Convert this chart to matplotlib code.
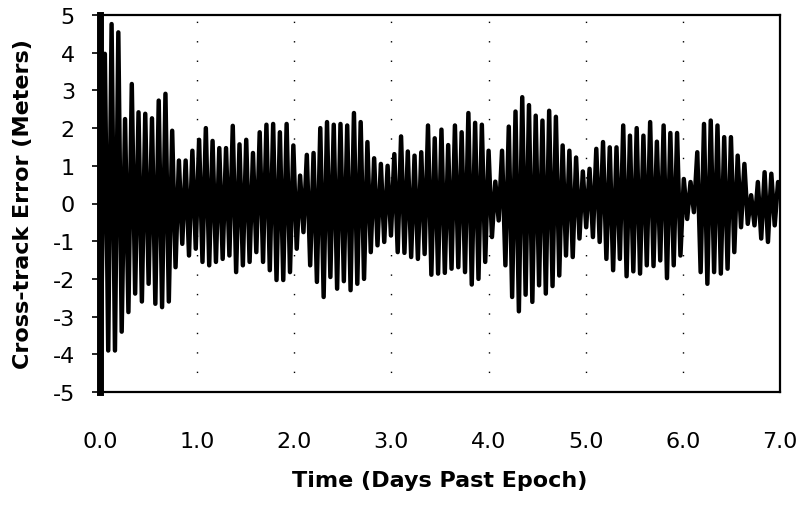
import numpy as np
import matplotlib
matplotlib.use("Agg")
import matplotlib.pyplot as plt

plt.rcParams["font.family"] = ["DejaVu Sans"]
plt.rcParams["axes.unicode_minus"] = False

# cross-track error: one positive peak and one negative
# trough per orbit (peaks start and end the series)
peaks = [
    3.97, 4.76, 4.54, 2.24, 3.17, 2.42, 2.38, 2.26, 2.73, 2.91,
    1.93, 1.14, 1.14, 1.40, 1.69, 2.00, 1.66, 1.47, 1.47, 2.06,
    1.57, 1.69, 1.34, 1.89, 2.09, 2.11, 1.89, 2.11, 1.54,
    0.74, 1.29, 1.34, 2.00, 2.16, 2.09, 2.11, 2.07, 2.40, 2.16,
    1.63, 1.20, 1.05, 1.00, 1.31, 1.78, 1.38, 1.27, 1.36, 2.07,
    1.73, 1.96, 1.55, 2.07, 1.89, 2.40, 2.14, 2.09, 1.40,
    0.58, 1.40, 2.04, 2.44, 2.82, 2.61, 2.33, 2.20, 2.46, 2.30,
    1.54, 1.40, 1.22, 0.85, 0.92, 1.45, 1.63, 1.49, 1.49, 2.07,
    1.80, 2.00, 1.80, 2.16, 1.64, 2.07, 1.87, 1.87, 0.65,
    0.57, 1.36, 2.11, 2.20, 2.07, 1.76, 1.76, 1.27, 1.05, 0.22,
    0.57, 0.83, 0.79, 0.57,
]
troughs = [
    -3.90, -3.90, -3.40, -2.88, -2.39, -2.60, -2.13, -2.66, -2.75, -2.60,
    -1.69, -1.07, -1.38, -1.20, -1.55, -1.64, -1.55, -1.47, -1.38, -1.82,
    -1.64, -1.55, -1.29, -1.55, -1.77, -2.03, -2.03, -1.82,
    -1.20, -0.76, -1.64, -2.08, -2.48, -1.95, -2.26, -2.06, -2.30, -2.13,
    -2.00, -1.29, -1.11, -1.02, -0.85, -1.29, -1.31, -1.42, -1.47, -1.34,
    -1.89, -1.86, -1.84, -1.73, -1.69, -1.82, -2.15, -2.00, -1.55,
    -0.89, -0.45, -1.64, -2.48, -2.86, -2.42, -2.61, -2.17, -2.39, -2.19,
    -1.91, -1.38, -1.42, -0.93, -0.63, -0.89, -1.02, -1.47, -1.77, -1.47,
    -1.93, -1.80, -1.86, -1.64, -1.66, -1.51, -1.98, -1.64, -1.38,
    -0.41, -0.23, -1.82, -2.13, -1.82, -1.86, -1.73, -1.29, -0.63, -0.54,
    -0.58, -0.93, -1.02, -0.58,
]
first_peak_day = 0.05
last_peak_day = 6.98
initial_swing = 5.6  # off-scale transient at epoch

x_ticks = [0, 1, 2, 3, 4, 5, 6, 7]
x_labels = ["0.0", "1.0", "2.0", "3.0", "4.0", "5.0", "6.0", "7.0"]
y_ticks = [-5, -4, -3, -2, -1, 0, 1, 2, 3, 4, 5]

# interleave peaks and troughs
vals = np.empty(len(peaks) + len(troughs))
vals[0::2] = peaks
vals[1::2] = troughs
t = np.linspace(first_peak_day, last_peak_day, len(vals))

fig = plt.figure(figsize=(8.06, 5.06), dpi=100)
ax = fig.add_axes([100 / 806, 1 - 393 / 506, 680 / 806, 377 / 506])

# the thick bar at epoch sits over the left spine
ax.axvline(0, color="black", lw=5, clip_on=False, zorder=4)
ax.plot(np.r_[0, t], np.r_[-initial_swing, vals], color="black", lw=3.2,
        solid_joinstyle="round", solid_capstyle="round")

ax.set_xlim(0, 7)
ax.set_ylim(-5, 5)
ax.set_xticks(x_ticks)
ax.set_xticklabels(x_labels)
ax.set_yticks(y_ticks)
ax.set_yticklabels([str(v) for v in y_ticks])
ax.tick_params(axis="x", length=0, pad=28, labelsize=16)
ax.tick_params(axis="y", direction="out", length=6, width=1.2, pad=12, labelsize=16)

for d in x_ticks[1:-1]:
    ax.axvline(d, color="black", lw=1.0, linestyle=(0, (1, 13)), zorder=0)

for s in ax.spines.values():
    s.set_linewidth(1.6)

ax.set_xlabel("Time (Days Past Epoch)", fontsize=16, fontweight="bold", labelpad=14)
ax.set_ylabel("Cross-track Error (Meters)", fontsize=16, fontweight="bold", labelpad=14)

fig.savefig("out.png", dpi=100)
